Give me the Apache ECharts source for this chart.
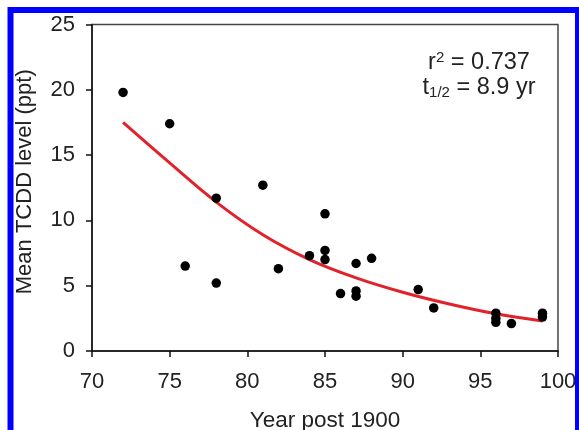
<!DOCTYPE html>
<html>
<head>
<meta charset="utf-8">
<script src="https://cdn.jsdelivr.net/npm/echarts@6/dist/echarts.min.js"></script>
<style>
html,body{margin:0;padding:0;background:#fff;}
#c{width:579px;height:430px;}
</style>
</head>
<body>
<div id="c"></div>
<script>
// Observed data points
const years = [72,75,76,78,78,81,82,84,85,85,85,86,87,87,87,88,91,92,96,96,96,97,99,99];
const levels = [19.8,17.4,6.5,11.7,5.2,12.7,6.3,7.3,10.5,7.7,7.0,4.4,6.7,4.6,4.2,7.1,4.7,3.3,2.9,2.5,2.2,2.1,2.9,2.6];
// Fitted curve
const fitYears = [72,75,78,81,84,87,90,93,96,99];
const fitLevels = [17.5,14.4,11.4,8.9,7.0,5.6,4.5,3.6,2.85,2.3];
// Tick labels
const xTicks = [70,75,80,85,90,95,100];
const yTicks = [0,5,10,15,20,25];

const FONT = '"Liberation Sans", Arial, sans-serif';
const chart = echarts.init(document.getElementById('c'), null, {renderer:'canvas'});
chart.setOption({
  animation:false,
  backgroundColor:'#fff',
  grid:{left:92,right:21,top:24.5,bottom:79,containLabel:false,outerBoundsMode:'none',
        show:true,borderColor:'#444',borderWidth:1.5,backgroundColor:'transparent'},
  xAxis:{
    type:'value',min:xTicks[0],max:xTicks[xTicks.length-1],interval:5,
    name:'Year post 1900',nameLocation:'middle',nameGap:58,
    nameTextStyle:{fontFamily:FONT,fontSize:22.5,color:'#222'},
    axisLine:{show:true,lineStyle:{color:'#111',width:1.5}},
    axisTick:{show:true,inside:false,length:6,lineStyle:{color:'#111',width:1.5}},
    axisLabel:{fontFamily:FONT,fontSize:22,color:'#222',margin:20,showMinLabel:true,showMaxLabel:true},
    splitLine:{show:false}
  },
  yAxis:{
    type:'value',min:yTicks[0],max:yTicks[yTicks.length-1],interval:5,
    name:'Mean TCDD level (ppt)',nameLocation:'middle',nameGap:56,
    nameTextStyle:{fontFamily:FONT,fontSize:22,color:'#222',padding:[0,0,0,12]},
    axisLine:{show:true,lineStyle:{color:'#111',width:1.5}},
    axisTick:{show:true,inside:false,length:6,lineStyle:{color:'#111',width:1.5}},
    axisLabel:{fontFamily:FONT,fontSize:22,color:'#222',margin:17},
    splitLine:{show:false}
  },
  series:[
    {
      type:'line',
      data:fitYears.map((x,i)=>[x,fitLevels[i]]),
      smooth:0.4,showSymbol:false,
      lineStyle:{color:'#e2222a',width:3},
      z:2
    },
    {
      type:'scatter',
      data:years.map((x,i)=>[x,levels[i]]),
      symbol:'circle',symbolSize:9.5,
      itemStyle:{color:'#000',opacity:1},
      z:3
    }
  ],
  graphic:[
    {
      type:'text',
      x:479,y:50,
      style:{
        text:'{b|r}{sup|2}{b| = 0.737}\n{b|t}{sub|1/2}{b| = 8.9 yr}',
        align:'center',verticalAlign:'top',
        fontFamily:FONT,fill:'#222',
        rich:{
          b:{fontFamily:FONT,fontSize:23.5,lineHeight:25,fill:'#222'},
          sup:{fontFamily:FONT,fontSize:15,lineHeight:6,verticalAlign:'top',fill:'#222'},
          sub:{fontFamily:FONT,fontSize:15,lineHeight:2,verticalAlign:'bottom',fill:'#222'}
        }
      },
      z:10
    },
    {
      type:'rect',
      shape:{x:10.5,y:10,width:567.5,height:500},
      style:{fill:null,stroke:'#0000ff',lineWidth:6},
      z:100
    }
  ]
});
</script>
</body>
</html>
